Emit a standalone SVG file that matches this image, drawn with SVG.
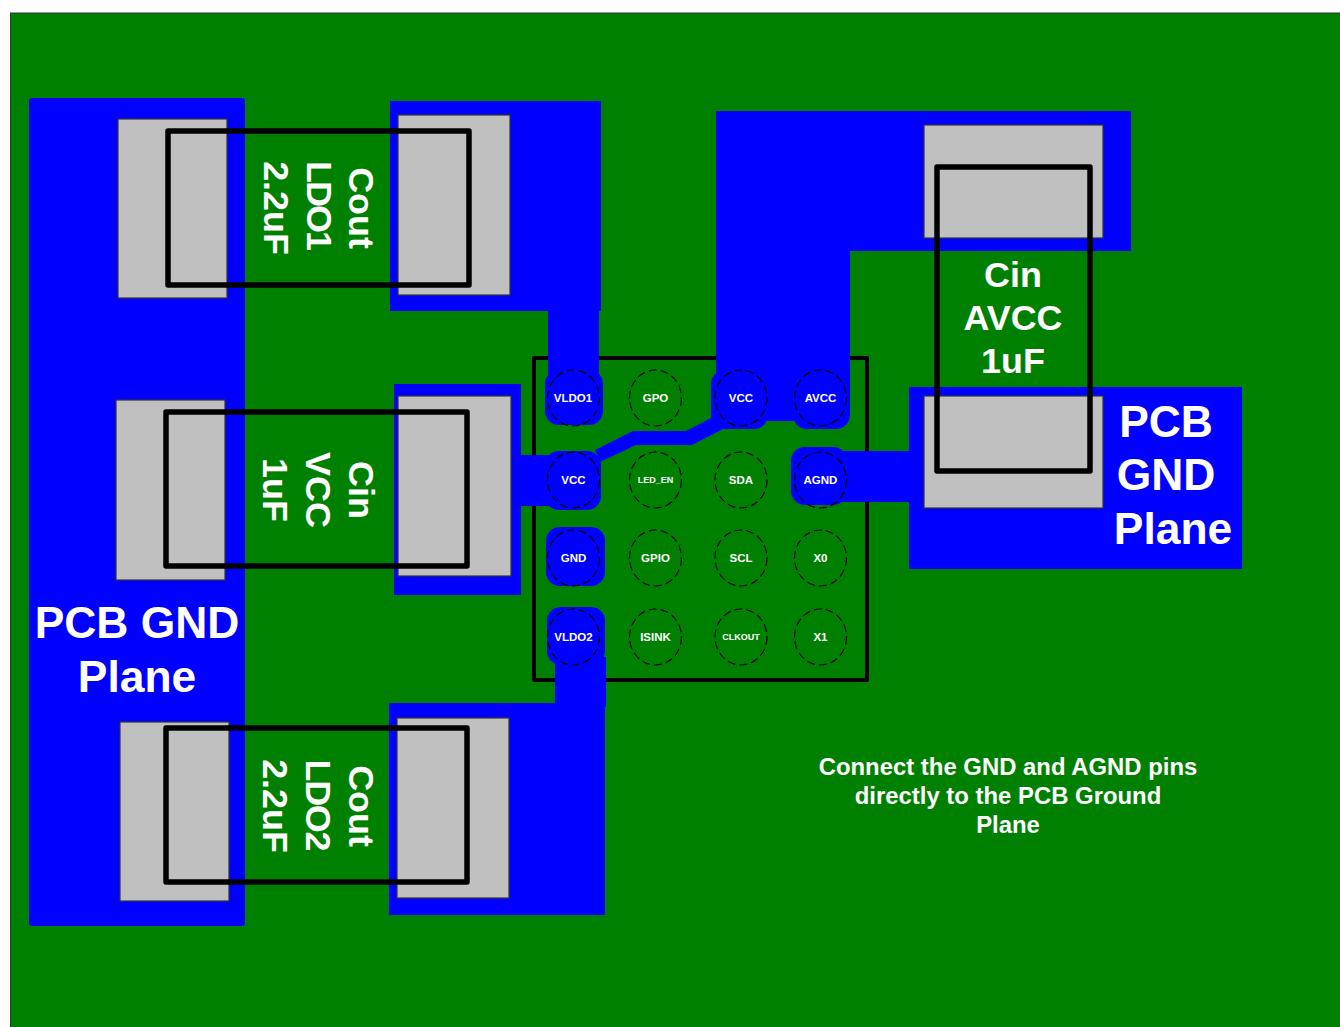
<svg xmlns="http://www.w3.org/2000/svg" width="1340" height="1027" viewBox="0 0 1340 1027">
<style>
text{font-family:"Liberation Sans",Arial,sans-serif;font-weight:bold;fill:#fff;text-anchor:middle}
.cu{fill:#0000ff}
.pad{fill:#c0c0c0;stroke:#333;stroke-width:1.2}
.body{fill:none;stroke:#000;stroke-width:5.500;stroke-linejoin:round}
.ball{fill:none;stroke:#000;stroke-width:1.200;stroke-dasharray:8 4}
.pin{font-size:11.500px}
.big{font-size:44.400px}
.note{font-size:23.900px}
.cap{font-size:35.900px}
</style>
<rect x="10.500" y="13" width="1340" height="1020" fill="#008000" stroke="#333" stroke-width="1"/>
<g id="chip">
<rect class="body" x="534" y="358" width="333" height="322" style="stroke-width:4"/>
</g>
<g id="copper">
<rect class="cu" x="29" y="98" width="216" height="828" rx="3"/>
<rect class="cu" x="390" y="101" width="211" height="210"/>
<rect class="cu" x="548" y="305" width="51" height="70"/>
<rect class="cu" x="545" y="370" width="58" height="55" rx="14"/>
<rect class="cu" x="394" y="384" width="127" height="211"/>
<rect class="cu" x="515" y="455" width="35" height="51"/>
<rect class="cu" x="545" y="451" width="56" height="59" rx="14"/>
<polygon class="cu" points="595,450 633,431 686,431 715,416 730,425 723,429 692,445 636,445 600,462"/>
<polygon class="cu" points="716,111 1131,111 1131,251 850,251 850,400 716,400"/>
<rect class="cu" x="711" y="370" width="57" height="59" rx="14"/>
<rect class="cu" x="793" y="370" width="57" height="59" rx="14"/>
<rect class="cu" x="755" y="395" width="50" height="26"/>
<rect class="cu" x="909" y="387" width="333" height="182"/>
<rect class="cu" x="830" y="451" width="85" height="51"/>
<rect class="cu" x="791" y="447" width="56" height="58" rx="14"/>
<rect class="cu" x="546" y="527" width="59" height="59" rx="14"/>
<rect class="cu" x="547" y="607" width="58" height="58" rx="14"/>
<rect class="cu" x="555" y="657" width="51" height="50"/>
<rect class="cu" x="389" y="703" width="216" height="212"/>
</g>
<g id="balls">
<g id="pin-VLDO1"><ellipse class="ball" cx="573.500" cy="398" rx="26" ry="28"/><text class="pin" x="573" y="402">VLDO1</text></g>
<g id="pin-GPO"><ellipse class="ball" cx="655.500" cy="398" rx="26" ry="28"/><text class="pin" x="655.500" y="402">GPO</text></g>
<g id="pin-VCC2"><ellipse class="ball" cx="741" cy="398" rx="26" ry="28"/><text class="pin" x="741" y="402">VCC</text></g>
<g id="pin-AVCC"><ellipse class="ball" cx="820.500" cy="398" rx="26" ry="28"/><text class="pin" x="820.500" y="402">AVCC</text></g>
<g id="pin-VCC"><ellipse class="ball" cx="573.500" cy="480" rx="26" ry="28"/><text class="pin" x="573.500" y="484">VCC</text></g>
<g id="pin-LED_EN"><ellipse class="ball" cx="655.500" cy="480" rx="26" ry="28"/><text x="655.500" y="483" font-size="9">LED_EN</text></g>
<g id="pin-SDA"><ellipse class="ball" cx="741" cy="480" rx="26" ry="28"/><text class="pin" x="741" y="484">SDA</text></g>
<g id="pin-AGND"><ellipse class="ball" cx="820.500" cy="480" rx="26" ry="28"/><text class="pin" x="820.500" y="484">AGND</text></g>
<g id="pin-GND"><ellipse class="ball" cx="573.500" cy="558" rx="26" ry="28"/><text class="pin" x="573.500" y="562">GND</text></g>
<g id="pin-GPIO"><ellipse class="ball" cx="655.500" cy="558" rx="26" ry="28"/><text class="pin" x="655.500" y="562">GPIO</text></g>
<g id="pin-SCL"><ellipse class="ball" cx="741" cy="558" rx="26" ry="28"/><text class="pin" x="741" y="562">SCL</text></g>
<g id="pin-X0"><ellipse class="ball" cx="820.500" cy="558" rx="26" ry="28"/><text class="pin" x="820.500" y="562">X0</text></g>
<g id="pin-VLDO2"><ellipse class="ball" cx="573.500" cy="637" rx="26" ry="28"/><text class="pin" x="573.500" y="641">VLDO2</text></g>
<g id="pin-ISINK"><ellipse class="ball" cx="655.500" cy="637" rx="26" ry="28"/><text class="pin" x="655.500" y="641">ISINK</text></g>
<g id="pin-CLKOUT"><ellipse class="ball" cx="741" cy="637" rx="26" ry="28"/><text x="741" y="640" font-size="9">CLKOUT</text></g>
<g id="pin-X1"><ellipse class="ball" cx="820.500" cy="637" rx="26" ry="28"/><text class="pin" x="820.500" y="641">X1</text></g>
</g>
<g id="cout-ldo1">
<rect class="pad" x="118" y="119" width="109" height="179"/><rect class="pad" x="398" y="115" width="112" height="180"/>
<rect class="body" x="168" y="131" width="301" height="154"/>
<text class="cap" transform="translate(349,208) rotate(90)">Cout</text>
<text class="cap" transform="translate(307,206) rotate(90)" textLength="90">LDO1</text>
<text class="cap" transform="translate(264,208) rotate(90)">2.2uF</text>
</g>
<g id="cin-vcc">
<rect class="pad" x="116" y="400" width="109" height="180"/><rect class="pad" x="398" y="396" width="113" height="180"/>
<rect class="body" x="166" y="412" width="301" height="154"/>
<text class="cap" transform="translate(349,490) rotate(90)">Cin</text>
<text class="cap" transform="translate(306,490) rotate(90)">VCC</text>
<text class="cap" transform="translate(263,490) rotate(90)">1uF</text>
</g>
<g id="cout-ldo2">
<rect class="pad" x="120" y="722" width="109" height="179"/><rect class="pad" x="397" y="718" width="112" height="180"/>
<rect class="body" x="166" y="728" width="301" height="154"/>
<text class="cap" transform="translate(349,806) rotate(90)">Cout</text>
<text class="cap" transform="translate(306,805.500) rotate(90)" textLength="92">LDO2</text>
<text class="cap" transform="translate(263,806) rotate(90)">2.2uF</text>
</g>
<g id="cin-avcc">
<rect class="pad" x="924" y="125" width="179" height="113"/><rect class="pad" x="924" y="396" width="179" height="112"/>
<rect class="body" x="937" y="167" width="153" height="304"/>
<text class="cap" x="1013" y="287">Cin</text>
<text class="cap" x="1013" y="330">AVCC</text>
<text class="cap" x="1013" y="373">1uF</text>
</g>
<g id="labels">
<text class="big" x="1166" y="437">PCB</text>
<text class="big" x="1166" y="490">GND</text>
<text class="big" x="1173" y="544">Plane</text>
<text class="big" x="137" y="638">PCB GND</text>
<text class="big" x="137" y="692">Plane</text>
<text class="note" x="1008" y="775">Connect the GND and AGND pins</text>
<text class="note" x="1008" y="804">directly to the PCB Ground</text>
<text class="note" x="1008" y="833">Plane</text>
</g>
</svg>
